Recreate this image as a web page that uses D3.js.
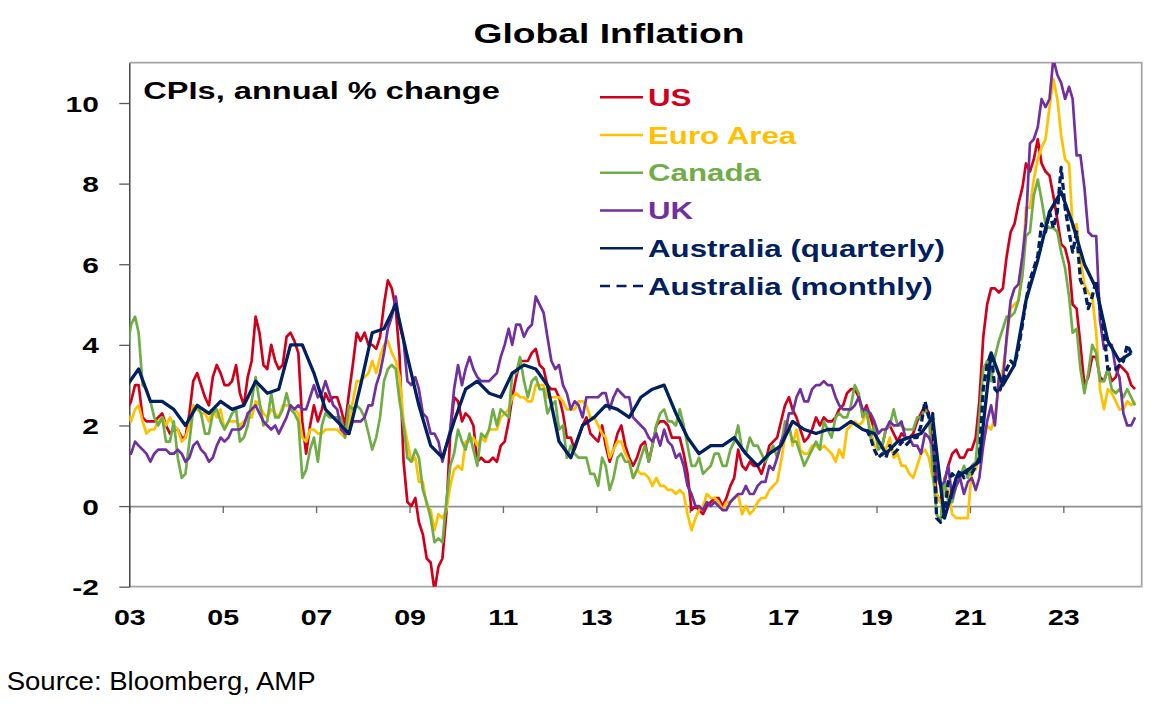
<!DOCTYPE html>
<html>
<head>
<meta charset="utf-8">
<title>Global Inflation</title>
<script src="https://cdnjs.cloudflare.com/ajax/libs/d3/7.8.5/d3.min.js"></script>
<style>
    body { margin: 0; background: #ffffff; }
    text { font-family: "Liberation Sans", Arial, sans-serif; }
</style>
</head>
<body>
<div id="chart"></div>
<script>

// ---- data (annual % change) ----

// monthly series, first value = Dec 2002
let monthlyStart = [2002, 11];

let usCPI = [2.4,
    2.6, 3.0, 3.0, 2.2, 2.1, 2.1, 2.1, 2.2, 2.3, 2.0, 1.8, 1.9,
    1.9, 1.7, 1.7, 2.3, 3.1, 3.3, 3.0, 2.7, 2.5, 3.2, 3.5, 3.3,
    3.0, 3.0, 3.1, 3.5, 2.8, 2.5, 3.2, 3.6, 4.7, 4.3, 3.5, 3.4,
    4.0, 3.6, 3.4, 3.5, 4.2, 4.3, 4.1, 3.8, 2.1, 1.3, 2.0, 2.5,
    2.1, 2.4, 2.8, 2.6, 2.7, 2.7, 2.4, 2.0, 2.8, 3.5, 4.3, 4.1,
    4.3, 4.0, 4.0, 3.9, 4.2, 5.0, 5.6, 5.4, 4.9, 3.7, 1.1, 0.1,
    0.0, 0.2, -0.4, -0.7, -1.3, -1.4, -2.1, -1.5, -1.3, -0.2, 1.8, 2.7,
    2.6, 2.1, 2.3, 2.2, 2.0, 1.1, 1.2, 1.1, 1.1, 1.2, 1.1, 1.5,
    1.6, 2.1, 2.7, 3.2, 3.6, 3.6, 3.6, 3.8, 3.9, 3.5, 3.4, 3.0,
    2.9, 2.9, 2.7, 2.3, 1.7, 1.7, 1.4, 1.7, 2.0, 2.2, 1.8, 1.7,
    1.6, 2.0, 1.5, 1.1, 1.4, 1.8, 2.0, 1.5, 1.2, 1.0, 1.2, 1.5,
    1.6, 1.1, 1.5, 2.0, 2.1, 2.1, 2.0, 1.7, 1.7, 1.7, 1.3, 0.8,
    -0.1, 0.0, -0.1, -0.2, 0.0, 0.1, 0.2, 0.2, 0.0, 0.2, 0.5, 0.7,
    1.4, 1.0, 0.9, 1.1, 1.0, 1.0, 0.8, 1.1, 1.5, 1.6, 1.7, 2.1,
    2.5, 2.7, 2.4, 2.2, 1.9, 1.6, 1.7, 1.9, 2.2, 2.0, 2.2, 2.1,
    2.1, 2.2, 2.4, 2.5, 2.8, 2.9, 2.9, 2.7, 2.3, 2.5, 2.2, 1.9,
    1.6, 1.5, 1.9, 2.0, 1.8, 1.6, 1.8, 1.7, 1.7, 1.8, 2.1, 2.3,
    2.5, 2.3, 1.5, 0.3, 0.1, 0.6, 1.0, 1.3, 1.4, 1.2, 1.2, 1.4,
    1.4, 1.7, 2.6, 4.2, 5.0, 5.4, 5.4, 5.3, 5.4, 6.2, 6.8, 7.0,
    7.5, 7.9, 8.5, 8.3, 8.6, 9.1, 8.5, 8.3, 8.2, 7.7, 7.1, 6.5,
    6.4, 6.0, 5.0, 4.9, 4.0, 3.0, 3.2, 3.7, 3.7, 3.2, 3.1, 3.4,
    3.1, 3.2, 3.5, 3.4, 3.3, 3.0, 2.9];

let euroCPI = [2.3,
    2.1, 2.4, 2.5, 2.1, 1.8, 1.9, 1.9, 2.1, 2.2, 2.0, 2.2, 2.0,
    1.9, 1.6, 1.7, 2.0, 2.5, 2.4, 2.3, 2.3, 2.1, 2.4, 2.2, 2.4,
    1.9, 2.1, 2.1, 2.1, 2.0, 2.1, 2.2, 2.2, 2.6, 2.5, 2.3, 2.2,
    2.4, 2.3, 2.2, 2.5, 2.5, 2.5, 2.4, 2.3, 1.7, 1.6, 1.9, 1.9,
    1.8, 1.8, 1.9, 1.9, 1.9, 1.9, 1.8, 1.7, 2.1, 2.6, 3.1, 3.1,
    3.2, 3.3, 3.6, 3.3, 3.7, 4.0, 4.1, 3.8, 3.6, 3.2, 2.1, 1.6,
    1.1, 1.2, 0.6, 0.6, 0.0, -0.1, -0.6, -0.2, -0.3, -0.1, 0.5, 0.9,
    1.0, 0.9, 1.6, 1.6, 1.7, 1.5, 1.7, 1.6, 1.9, 1.9, 1.9, 2.2,
    2.3, 2.4, 2.7, 2.8, 2.7, 2.7, 2.6, 2.6, 3.0, 3.0, 3.0, 2.7,
    2.7, 2.7, 2.7, 2.6, 2.4, 2.4, 2.4, 2.6, 2.6, 2.5, 2.2, 2.2,
    2.0, 1.8, 1.7, 1.2, 1.4, 1.6, 1.6, 1.3, 1.1, 0.7, 0.9, 0.8,
    0.8, 0.7, 0.5, 0.7, 0.5, 0.5, 0.4, 0.4, 0.3, 0.4, 0.3, -0.2,
    -0.6, -0.3, -0.1, 0.0, 0.3, 0.2, 0.2, 0.1, -0.1, 0.1, 0.1, 0.2,
    0.3, -0.2, 0.0, -0.2, -0.1, 0.1, 0.2, 0.2, 0.4, 0.5, 0.6, 1.1,
    1.7, 2.0, 1.5, 1.9, 1.4, 1.3, 1.3, 1.5, 1.5, 1.4, 1.5, 1.4,
    1.3, 1.1, 1.4, 1.2, 1.9, 2.0, 2.1, 2.0, 2.1, 2.3, 1.9, 1.5,
    1.4, 1.5, 1.4, 1.7, 1.2, 1.3, 1.0, 1.0, 0.8, 0.7, 1.0, 1.3,
    1.4, 1.2, 0.7, 0.3, 0.1, 0.3, 0.4, -0.2, -0.3, -0.3, -0.3, -0.3,
    0.9, 0.9, 1.3, 1.6, 2.0, 1.9, 2.2, 3.0, 3.4, 4.1, 4.9, 5.0,
    5.1, 5.9, 7.4, 7.4, 8.1, 8.6, 8.9, 9.1, 9.9, 10.6, 10.1, 9.2,
    8.6, 8.5, 6.9, 7.0, 6.1, 5.5, 5.3, 5.2, 4.3, 2.9, 2.4, 2.9,
    2.8, 2.6, 2.4, 2.4, 2.6, 2.5, 2.6];

let canadaCPI = [3.9,
    4.5, 4.7, 4.3, 3.0, 2.9, 2.6, 2.2, 2.0, 2.2, 1.6, 1.6, 2.1,
    1.2, 0.7, 0.8, 1.6, 2.4, 2.5, 2.3, 1.8, 1.8, 2.3, 2.4, 2.1,
    1.9, 2.1, 2.3, 2.4, 1.6, 1.7, 2.0, 2.6, 3.2, 2.6, 2.0, 2.1,
    2.8, 2.2, 2.2, 2.4, 2.8, 2.4, 2.3, 2.1, 0.7, 0.9, 1.4, 1.7,
    1.1, 2.0, 2.3, 2.2, 2.2, 2.2, 2.2, 1.7, 2.5, 2.4, 2.5, 2.4,
    2.2, 1.8, 1.4, 1.7, 2.2, 3.1, 3.4, 3.5, 3.4, 2.6, 2.0, 1.2,
    1.1, 1.4, 1.2, 0.4, 0.1, -0.3, -0.9, -0.8, -0.9, 0.1, 1.0, 1.3,
    1.9, 1.6, 1.4, 1.8, 1.4, 1.0, 1.8, 1.7, 1.9, 2.4, 2.0, 2.4,
    2.3, 2.2, 3.3, 3.3, 3.7, 3.1, 2.7, 3.1, 3.2, 2.9, 2.9, 2.3,
    2.5, 2.6, 1.9, 2.0, 1.2, 1.5, 1.3, 1.2, 1.2, 1.2, 0.8, 0.8,
    0.5, 1.2, 1.0, 0.4, 0.7, 1.2, 1.3, 1.1, 1.1, 0.7, 0.9, 1.2,
    1.5, 1.1, 1.5, 2.0, 2.3, 2.4, 2.1, 2.1, 2.0, 2.4, 2.0, 1.5,
    1.0, 1.0, 1.2, 0.8, 0.9, 1.0, 1.3, 1.3, 1.0, 1.0, 1.4, 1.6,
    2.0, 1.4, 1.3, 1.7, 1.5, 1.5, 1.3, 1.1, 1.3, 1.5, 1.2, 1.5,
    2.1, 2.0, 1.6, 1.6, 1.3, 1.0, 1.2, 1.4, 1.6, 1.4, 2.1, 1.9,
    1.7, 2.2, 2.3, 2.2, 2.2, 2.5, 3.0, 2.8, 2.2, 2.4, 1.7, 2.0,
    1.4, 1.5, 1.9, 2.0, 2.4, 2.0, 2.0, 1.9, 1.9, 1.9, 2.2, 2.2,
    2.4, 2.2, 0.9, -0.2, -0.4, 0.7, 0.1, 0.1, 0.5, 0.7, 1.0, 0.7,
    1.0, 1.1, 2.2, 3.4, 3.6, 3.1, 3.7, 4.1, 4.4, 4.7, 4.7, 4.8,
    5.1, 5.7, 6.7, 6.8, 7.7, 8.1, 7.6, 7.0, 6.9, 6.9, 6.8, 6.3,
    5.9, 5.2, 4.3, 4.4, 3.4, 2.8, 3.3, 4.0, 3.8, 3.1, 3.1, 3.4,
    2.9, 2.8, 2.9, 2.7, 2.9, 2.7, 2.5];

let ukCPI = [1.4,
    1.3, 1.6, 1.5, 1.4, 1.3, 1.1, 1.3, 1.4, 1.4, 1.4, 1.3, 1.3,
    1.4, 1.3, 1.1, 1.2, 1.5, 1.6, 1.4, 1.3, 1.1, 1.2, 1.5, 1.7,
    1.6, 1.7, 1.9, 1.9, 1.9, 2.0, 2.3, 2.4, 2.5, 2.3, 2.1, 2.0,
    1.9, 2.0, 1.8, 2.0, 2.2, 2.5, 2.4, 2.5, 2.4, 2.4, 2.7, 3.0,
    2.7, 2.8, 3.1, 2.8, 2.5, 2.4, 1.9, 1.8, 1.8, 2.1, 2.1, 2.1,
    2.2, 2.5, 2.5, 3.0, 3.3, 3.8, 4.4, 4.7, 5.2, 4.5, 4.1, 3.1,
    3.0, 3.2, 2.9, 2.3, 2.2, 1.8, 1.8, 1.6, 1.1, 1.5, 1.9, 2.9,
    3.5, 3.0, 3.4, 3.7, 3.4, 3.2, 3.1, 3.1, 3.1, 3.2, 3.3, 3.7,
    4.0, 4.4, 4.0, 4.5, 4.5, 4.2, 4.4, 4.5, 5.2, 5.0, 4.8, 4.2,
    3.6, 3.4, 3.5, 3.0, 2.8, 2.4, 2.6, 2.5, 2.2, 2.7, 2.7, 2.7,
    2.7, 2.8, 2.8, 2.4, 2.7, 2.9, 2.8, 2.7, 2.7, 2.2, 2.1, 2.0,
    1.9, 1.7, 1.6, 1.8, 1.5, 1.9, 1.6, 1.5, 1.2, 1.3, 1.0, 0.5,
    0.3, 0.0, 0.0, -0.1, 0.1, 0.0, 0.1, 0.0, -0.1, -0.1, 0.1, 0.2,
    0.3, 0.3, 0.5, 0.3, 0.3, 0.5, 0.6, 0.6, 1.0, 0.9, 1.2, 1.6,
    1.8, 2.3, 2.3, 2.7, 2.9, 2.6, 2.6, 2.9, 3.0, 3.0, 3.1, 3.0,
    3.0, 2.7, 2.5, 2.4, 2.4, 2.4, 2.5, 2.7, 2.4, 2.4, 2.3, 2.1,
    1.8, 1.9, 1.9, 2.1, 2.0, 2.0, 2.1, 1.7, 1.7, 1.5, 1.5, 1.3,
    1.8, 1.7, 1.5, 0.8, 0.5, 0.6, 1.0, 0.2, 0.5, 0.7, 0.3, 0.6,
    0.7, 0.4, 0.7, 1.5, 2.1, 2.5, 2.0, 3.2, 3.1, 4.2, 5.1, 5.4,
    5.5, 6.2, 7.0, 9.0, 9.1, 9.4, 10.1, 9.9, 10.1, 11.1, 10.7, 10.5,
    10.1, 10.4, 10.1, 8.7, 8.7, 7.9, 6.8, 6.7, 6.7, 4.6, 3.9, 4.0,
    4.0, 3.4, 3.2, 2.3, 2.0, 2.0, 2.2];

// Australia quarterly, first value = Dec quarter 2002
let ausQuarterStart = [2002, 11];
let ausQuarterly = [3.0,
    3.4, 2.6, 2.6, 2.4,
    2.0, 2.5, 2.3, 2.6,
    2.4, 2.5, 3.1, 2.8,
    2.9, 4.0, 4.0, 3.3,
    2.4, 2.1, 1.8, 3.0,
    4.3, 4.4, 5.0, 3.7,
    2.5, 1.5, 1.2, 2.1,
    2.9, 3.1, 2.8, 2.7,
    3.3, 3.5, 3.4, 3.0,
    1.6, 1.2, 2.0, 2.2,
    2.5, 2.4, 2.2, 2.7,
    2.9, 3.0, 2.3, 1.7,
    1.3, 1.5, 1.5, 1.7,
    1.3, 1.0, 1.3, 1.5,
    2.1, 1.9, 1.8, 1.9,
    1.9, 2.1, 1.9, 1.8,
    1.3, 1.6, 1.7, 1.8,
    2.2, -0.3, 0.7, 0.9,
    1.1, 3.8, 3.0, 3.5,
    5.1, 6.1, 7.3, 7.8,
    7.0, 6.0, 5.4, 4.1,
    3.6, 3.8];

// Australia monthly indicator, first value = Oct 2018
let ausMonthlyStart = [2018, 9];
let ausMonthly = [1.9, 1.7, 1.4,
    1.2, 1.3, 1.2, 1.5, 1.3, 1.4, 1.6, 1.5, 1.6, 1.7, 1.7, 2.0,
    2.6, 2.2, 2.3, -0.3, -0.4, -0.2, 0.6, 0.8, 0.7, 0.9, 0.7, 0.9,
    0.8, 1.0, 1.2, 2.9, 3.5, 3.8, 2.9, 2.8, 3.1, 3.4, 3.6, 3.5,
    3.9, 4.5, 5.1, 5.6, 5.9, 6.2, 7.0, 6.8, 7.3, 6.9, 7.3, 8.4,
    7.4, 6.8, 6.3, 6.8, 5.6, 5.4, 4.9, 5.2, 5.6, 4.9, 4.3, 3.4,
    3.4, 3.4, 3.5, 3.6, 4.0, 3.8];

let seriesNames = ["US", "Euro Area", "Canada", "UK", "Australia (quarterly)", "Australia (monthly)"];
let seriesColors = ["#D0001C", "#FFC000", "#70AD47", "#7030A0", "#002060", "#002060"];

let yTicks = [-2, 0, 2, 4, 6, 8, 10];
let yTickLabels = ["-2", "0", "2", "4", "6", "8", "10"];
let xTickYears = [2003, 2005, 2007, 2009, 2011, 2013, 2015, 2017, 2019, 2021, 2023];
let xTickLabels = ["03", "05", "07", "09", "11", "13", "15", "17", "19", "21", "23"];


class InflationVis {

    constructor(parentElement) {
        this.parentElement = parentElement;
        this.displayData = [];
        this.initVis();
    }

    initVis() {
        let vis = this;

        vis.totalWidth = 1164;
        vis.totalHeight = 709;
        vis.margin = {top: 62.7, right: 22.3, bottom: 122.3, left: 129.3};
        vis.width = vis.totalWidth - vis.margin.left - vis.margin.right;
        vis.height = vis.totalHeight - vis.margin.top - vis.margin.bottom;

        // the picture is stretched sideways, so the text is too
        vis.stretch = 1.33;

        vis.root = d3.select("#" + vis.parentElement).append("svg")
            .attr("width", vis.totalWidth)
            .attr("height", vis.totalHeight);

        vis.root.append("rect")
            .attr("width", vis.totalWidth)
            .attr("height", vis.totalHeight)
            .attr("fill", "#ffffff");

        vis.svg = vis.root.append("g")
            .attr("transform", `translate(${vis.margin.left}, ${vis.margin.top})`);

        vis.svg.append("clipPath")
            .attr("id", "plot-clip")
            .append("rect")
            .attr("width", vis.width)
            .attr("height", vis.height);

        // title + source
        vis.root.append("text")
            .text("Global Inflation")
            .attr("text-anchor", "middle")
            .attr("font-weight", "bold")
            .attr("font-size", 28)
            .attr("fill", "#000")
            .attr("transform", `translate(609, 43) scale(${vis.stretch},1)`);

        vis.root.append("text")
            .text("Source: Bloomberg, AMP")
            .attr("font-size", 25.5)
            .attr("fill", "#000")
            .attr("transform", "translate(6.7, 690) scale(1.08,1)");

        // scales
        vis.x = d3.scaleTime()
            .domain([new Date(2003, 0, 1), new Date(2024, 8, 5)])
            .range([0, vis.width]);

        vis.y = d3.scaleLinear()
            .domain([-2, 11])
            .range([vis.height, 0]);

        vis.wrangleData();
    }

    wrangleData() {
        let vis = this;

        let monthly = (values, start) => values.map((v, i) => ({date: new Date(start[0], start[1] + i, 15), value: v}));
        let quarterly = (values, start) => values.map((v, i) => ({date: new Date(start[0], start[1] + 3 * i, 15), value: v}));

        vis.displayData = [
            {name: seriesNames[0], values: monthly(usCPI, monthlyStart)},
            {name: seriesNames[1], values: monthly(euroCPI, monthlyStart)},
            {name: seriesNames[2], values: monthly(canadaCPI, monthlyStart)},
            {name: seriesNames[3], values: monthly(ukCPI, monthlyStart)},
            {name: seriesNames[4], values: quarterly(ausQuarterly, ausQuarterStart)},
            {name: seriesNames[5], values: monthly(ausMonthly, ausMonthlyStart)}
        ];
        vis.displayData.forEach((s, i) => {
            s.color = seriesColors[i];
            s.dashed = i === 5;
            s.thick = i >= 4;
        });

        vis.updateVis();
    }

    updateVis() {
        let vis = this;

        // frame: grey top, right and bottom lines
        vis.svg.append("path")
            .attr("d", `M0,0H${vis.width}V${vis.height}H0`)
            .attr("fill", "none")
            .attr("stroke", "#a6a6a6")
            .attr("stroke-width", 1.8);

        // zero line with year ticks
        let xAxis = d3.axisBottom(vis.x)
            .tickValues(xTickYears.map(y => new Date(y, 0, 1)))
            .tickSize(7)
            .tickSizeOuter(0)
            .tickFormat((d, i) => xTickLabels[i]);

        let xAxisGroup = vis.svg.append("g")
            .attr("class", "axis x-axis")
            .attr("transform", `translate(0, ${vis.y(0)})`)
            .call(xAxis);

        xAxisGroup.select(".domain").attr("stroke", "#8f8f8f").attr("stroke-width", 1.6);
        xAxisGroup.selectAll(".tick line").attr("stroke", "#6f6f6f").attr("stroke-width", 1.4);
        xAxisGroup.selectAll(".tick text")
            .attr("y", 0)
            .attr("dy", null)
            .attr("font-size", 21.5)
            .attr("font-weight", "bold")
            .attr("font-family", "Liberation Sans, Arial, sans-serif")
            .attr("fill", "#000")
            .attr("transform", `translate(0, ${625 - vis.margin.top - vis.y(0)}) scale(${vis.stretch},1)`);

        // y axis
        let yAxis = d3.axisLeft(vis.y)
            .tickValues(yTicks)
            .tickSize(10)
            .tickSizeOuter(0)
            .tickFormat((d, i) => yTickLabels[i]);

        let yAxisGroup = vis.svg.append("g")
            .attr("class", "axis y-axis")
            .call(yAxis);

        yAxisGroup.select(".domain").attr("stroke", "#3a3a3a").attr("stroke-width", 1.4);
        yAxisGroup.selectAll(".tick line").attr("stroke", "#5a5a5a").attr("stroke-width", 1.3);
        yAxisGroup.selectAll(".tick text")
            .attr("x", 0)
            .attr("dy", null)
            .attr("font-size", 22.5)
            .attr("font-weight", "bold")
            .attr("font-family", "Liberation Sans, Arial, sans-serif")
            .attr("fill", "#000")
            .attr("transform", `translate(-30.5, 8) scale(${vis.stretch},1)`);

        // lines
        let line = d3.line()
            .x(d => vis.x(d.date))
            .y(d => vis.y(d.value));

        vis.svg.append("g")
            .attr("clip-path", "url(#plot-clip)")
            .selectAll("path")
            .data(vis.displayData)
            .enter().append("path")
            .attr("class", d => "series " + d.name)
            .attr("d", d => line(d.values))
            .attr("fill", "none")
            .attr("stroke", d => d.color)
            .attr("stroke-width", d => d.thick ? 3.3 : 2.7)
            .attr("stroke-linejoin", "round")
            .attr("stroke-dasharray", d => d.dashed ? "7,3.5" : null);

        // subtitle
        vis.root.append("text")
            .text("CPIs, annual % change")
            .attr("font-weight", "bold")
            .attr("font-size", 24.5)
            .attr("fill", "#000")
            .attr("transform", `translate(143.3, 99.3) scale(${vis.stretch},1)`);

        // legend
        let legend = vis.root.append("g")
            .attr("class", "legend")
            .selectAll("g")
            .data(vis.displayData)
            .enter().append("g")
            .attr("transform", (d, i) => `translate(600, ${97.3 + i * 37.75})`);

        legend.append("line")
            .attr("x1", 0)
            .attr("x2", 43)
            .attr("stroke", d => d.color)
            .attr("stroke-width", 2.4)
            .attr("stroke-dasharray", d => d.dashed ? "10,6.5" : null);

        legend.append("text")
            .text(d => d.name)
            .attr("font-weight", "bold")
            .attr("font-size", 23.5)
            .attr("fill", d => d.color)
            .attr("transform", `translate(48, 8.6) scale(${vis.stretch},1)`);
    }
}

let inflationVis = new InflationVis("chart");

</script>
</body>
</html>
